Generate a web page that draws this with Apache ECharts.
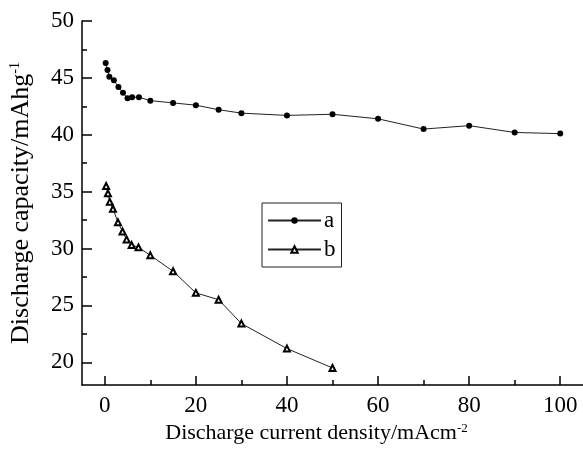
<!DOCTYPE html>
<html>
<head>
<meta charset="utf-8">
<script src="https://cdn.jsdelivr.net/npm/echarts@6/dist/echarts.min.js"></script>
<style>
  html, body { margin: 0; padding: 0; background: #fff; }
  #chart { width: 583px; height: 455px; }
</style>
</head>
<body>
<div id="chart"></div>
<script>
// values
const xA = [0.2, 0.6, 1, 2, 3, 4, 5, 6, 7.5, 10, 15, 20, 25, 30, 40, 50, 60, 70, 80, 90, 100]
const yA = [46.3, 45.7, 45.1, 44.8, 44.2, 43.7, 43.2, 43.3, 43.3, 43.0, 42.8, 42.6, 42.2, 41.9, 41.7, 41.8, 41.4, 40.5, 40.8, 40.2, 40.1]
const xB = [0.3, 0.7, 1.1, 1.8, 2.9, 3.9, 4.8, 5.9, 7.4, 10, 15, 20, 25, 30, 40, 50]
const yB = [35.5, 34.85, 34.1, 33.5, 32.3, 31.5, 30.8, 30.3, 30.1, 29.4, 28.0, 26.1, 25.5, 23.4, 21.2, 19.5]

const xTicks = [0, 20, 40, 60, 80, 100]
const xMinor = [10, 30, 50, 70, 90]
const yTicks = [20, 25, 30, 35, 40, 45, 50]
const yMinor = [22.5, 27.5, 32.5, 37.5, 42.5, 47.5]

const font = 'Liberation Serif'
const ink = '#000'

const chart = echarts.init(document.getElementById('chart'))

const pairs = (xs, ys) => xs.map((x, i) => [x, ys[i]])

const option = {
  backgroundColor: '#fff',
  animation: false,
  textStyle: { fontFamily: font, color: ink },
  grid: { left: 81, right: 0, top: 21, bottom: 70 },
  legend: {
    orient: 'vertical',
    left: 262,
    top: 203,
    data: ['a', 'b'],
    itemWidth: 53,
    itemHeight: 8,
    itemGap: 6,
    padding: [6, 6, 6, 5],
    borderColor: '#222',
    borderWidth: 1,
    textStyle: { fontFamily: font, fontSize: 23, color: ink, padding: [0, 0, 0, -2] }
  },
  xAxis: [{
    type: 'value',
    min: -5,
    max: 105,
    position: 'bottom',
    name: '{t|Discharge current density/mAcm}{s|-2}',
    nameLocation: 'middle',
    nameGap: 36,
    nameTextStyle: {
      padding: [0, 32, 0, 0],
      rich: {
        t: { fontFamily: font, fontSize: 22, color: ink },
        s: { fontFamily: font, fontSize: 13, color: ink, verticalAlign: 'top', padding: [0, 0, 10, 0] }
      }
    },
    axisLine: { show: true, onZero: false, lineStyle: { color: ink, width: 1.5 } },
    axisTick: { show: true, inside: true, length: 9, customValues: xTicks, lineStyle: { color: ink, width: 1.5 } },
    axisLabel: { customValues: xTicks, fontFamily: font, fontSize: 23, color: ink, margin: 9 },
    splitLine: { show: false }
  }, {
    type: 'value',
    min: -5,
    max: 105,
    position: 'bottom',
    axisLine: { show: false, onZero: false },
    axisTick: { show: true, inside: true, length: 5, customValues: xMinor, lineStyle: { color: ink, width: 1.5 } },
    axisLabel: { show: false },
    splitLine: { show: false }
  }],
  yAxis: [{
    type: 'value',
    min: 18,
    max: 50,
    position: 'left',
    name: '{t|Discharge capacity/mAhg}{s|-1}',
    nameLocation: 'middle',
    nameGap: 48,
    nameTextStyle: {
      rich: {
        t: { fontFamily: font, fontSize: 26, color: ink },
        s: { fontFamily: font, fontSize: 14, color: ink, verticalAlign: 'top', padding: [0, 0, 12, 0] }
      }
    },
    axisLine: { show: true, onZero: false, lineStyle: { color: ink, width: 1.5 } },
    axisTick: { show: true, inside: true, length: 10, customValues: yTicks, lineStyle: { color: ink, width: 1.5 } },
    axisLabel: { customValues: yTicks, fontFamily: font, fontSize: 23, color: ink, margin: 8 },
    splitLine: { show: false }
  }, {
    type: 'value',
    min: 18,
    max: 50,
    position: 'left',
    axisLine: { show: false, onZero: false },
    axisTick: { show: true, inside: true, length: 5, customValues: yMinor, lineStyle: { color: ink, width: 1.5 } },
    axisLabel: { show: false },
    splitLine: { show: false }
  }],
  series: [{
    name: 'a',
    type: 'line',
    data: pairs(xA, yA),
    symbol: 'circle',
    symbolSize: 6,
    lineStyle: { color: '#222', width: 1 },
    itemStyle: { color: ink }
  }, {
    name: 'b',
    type: 'line',
    data: pairs(xB, yB),
    symbol: 'emptyTriangle',
    symbolSize: 6,
    lineStyle: { color: '#222', width: 1 },
    itemStyle: { color: ink, borderWidth: 0.9 }
  }]
}

chart.setOption(option)
</script>
</body>
</html>
